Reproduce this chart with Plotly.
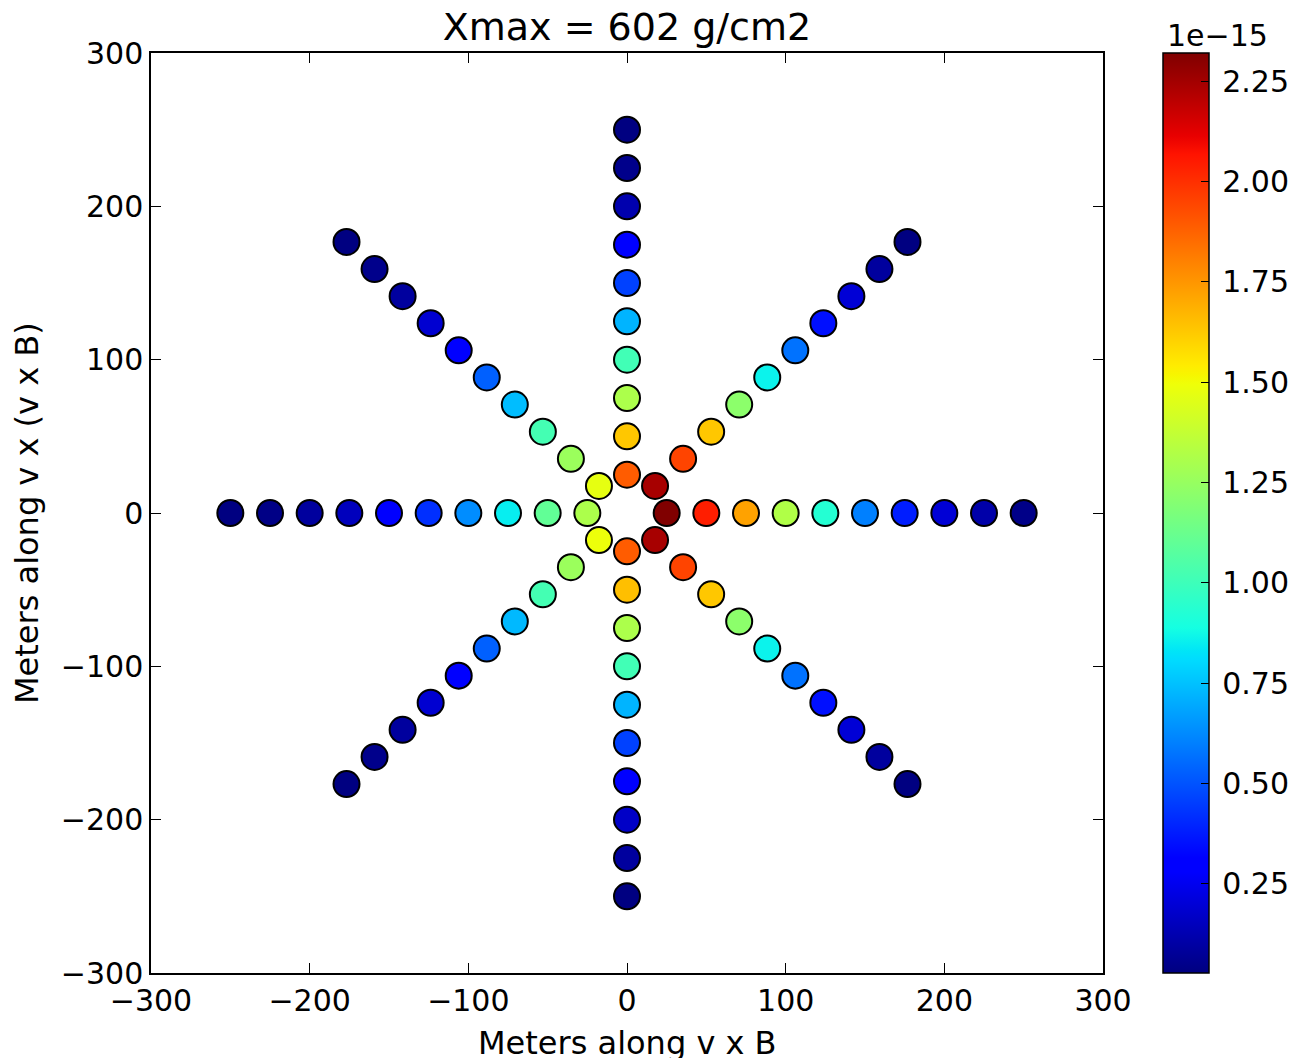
import math
import plotly.graph_objects as go

# ---- data ----
radii_m = [25, 50, 75, 100, 125, 150, 175, 200, 225, 250]
arm_names = ["E", "NE", "N", "NW", "W", "SW", "S", "SE"]
arm_angles_deg = [0, 45, 90, 135, 180, 225, 270, 315]
# field values (units of 1e-15), ordered from r=25 to r=250
val_E = [2.32, 2.04, 1.72, 1.32, 0.93, 0.60, 0.38, 0.20, 0.11, 0.044]
val_NE = [2.24, 1.95, 1.63, 1.22, 0.86, 0.57, 0.35, 0.20, 0.09, 0.03]
val_N = [1.89, 1.63, 1.31, 1.01, 0.72, 0.46, 0.29, 0.12, 0.05, 0.03]
val_NW = [1.47, 1.26, 1.02, 0.74, 0.53, 0.29, 0.19, 0.09, 0.05, 0.03]
val_W = [1.31, 1.10, 0.85, 0.63, 0.42, 0.29, 0.15, 0.09, 0.04, 0.03]
val_SW = [1.49, 1.26, 1.02, 0.73, 0.53, 0.29, 0.19, 0.09, 0.05, 0.03]
val_S = [1.89, 1.65, 1.31, 1.01, 0.72, 0.46, 0.29, 0.17, 0.09, 0.03]
val_SE = [2.24, 1.95, 1.63, 1.22, 0.86, 0.57, 0.35, 0.20, 0.09, 0.03]
arm_values = [val_E, val_NE, val_N, val_NW, val_W, val_SW, val_S, val_SE]
cb_ticks = [0.25, 0.50, 0.75, 1.00, 1.25, 1.50, 1.75, 2.00, 2.25]
v_min, v_max = 0.028, 2.32

# ---- matplotlib "jet" colorscale ----
_jet = {
    "r": [(0, 0), (0.35, 0), (0.66, 1), (0.89, 1), (1, 0.5)],
    "g": [(0, 0), (0.125, 0), (0.375, 1), (0.64, 1), (0.91, 0), (1, 0)],
    "b": [(0, 0.5), (0.11, 1), (0.34, 1), (0.65, 0), (1, 0)],
}

def _interp(pts, t):
    for (x0, y0), (x1, y1) in zip(pts[:-1], pts[1:]):
        if x0 <= t <= x1:
            return y0 + (y1 - y0) * (t - x0) / (x1 - x0) if x1 > x0 else y1
    return pts[-1][1]

stops = sorted(set([p[0] for c in _jet.values() for p in c] + [i / 40 for i in range(41)]))
jet = []
for t in stops:
    r, g, b = (_interp(_jet[c], t) for c in "rgb")
    jet.append([t, f"rgb({round(r*255)},{round(g*255)},{round(b*255)})"])

# ---- build points (diagonals first, then axes) ----
order = [1, 3, 5, 7, 0, 2, 4, 6]
xs, ys, cs = [], [], []
for i in order:
    a = math.radians(arm_angles_deg[i])
    for r, v in zip(radii_m, arm_values[i]):
        xs.append(r * math.cos(a))
        ys.append(r * math.sin(a))
        cs.append(v)

FONT = "DejaVu Sans"
fig = go.Figure()
fig.add_trace(go.Scatter(
    x=xs, y=ys, mode="markers",
    marker=dict(
        size=26, color=cs, colorscale=jet, cmin=v_min, cmax=v_max,
        line=dict(color="black", width=2),
        colorbar=dict(
            x=(1163 - 151) / 952, xanchor="left", xref="paper",
            y=0.5, yanchor="middle", len=1, lenmode="fraction",
            thickness=46, thicknessmode="pixels",
            outlinecolor="black", outlinewidth=1.5,
            tickvals=cb_ticks, ticktext=["\u2009" + f"{t:.2f}" for t in cb_ticks],
            ticks="inside", ticklen=8, tickcolor="black", tickwidth=1,
            tickfont=dict(family=FONT, size=30, color="black"),
            ypad=0, xpad=0,
        ),
    ),
    showlegend=False, hoverinfo="skip",
))

axis_common = dict(
    range=[-300, 300], dtick=100, tick0=0,
    ticks="inside", ticklen=10, tickwidth=1, tickcolor="black",
    showline=True, linecolor="black", linewidth=1.5, mirror="allticks",
    showgrid=False, zeroline=False,
    tickfont=dict(family=FONT, size=30, color="black"),
)
fig.update_xaxes(**axis_common)
fig.update_yaxes(**axis_common)

fig.update_layout(
    width=1293, height=1058,
    margin=dict(l=151, r=190, t=53, b=85, autoexpand=False),
    plot_bgcolor="white", paper_bgcolor="white",
    title=dict(text="Xmax = 602 g/cm2", x=0.5, xref="paper", xanchor="center",
               y=1 - 27 / 1058, yanchor="middle",
               font=dict(family=FONT, size=38, color="black")),
    annotations=[
        dict(text="Meters along v x B", xref="paper", yref="paper",
             x=0.5, y=-70 / 920, xanchor="center", yanchor="middle",
             showarrow=False, font=dict(family=FONT, size=32, color="black")),
        dict(text="Meters along v x (v x B)", xref="paper", yref="paper",
             x=(27 - 151) / 952, y=0.5, xanchor="center", yanchor="middle",
             textangle=-90, showarrow=False,
             font=dict(family=FONT, size=32, color="black")),
        dict(text="1e\u221215", xref="paper", yref="paper",
             x=(1217 - 151) / 952, y=(973 - 35) / 920, xanchor="center", yanchor="middle",
             showarrow=False, font=dict(family=FONT, size=30, color="black")),
    ],
)

fig.write_html("out.html")
